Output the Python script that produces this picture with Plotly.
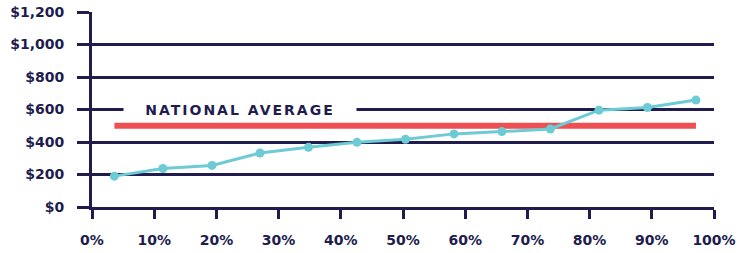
import plotly.graph_objects as go

# Data
pct = [3.6, 11.4, 19.3, 27.0, 34.8, 42.6, 50.4, 58.2, 65.9, 73.7, 81.5, 89.3, 97.1]
cost = [190, 237, 256, 332, 367, 398, 417, 450, 464, 480, 596, 612, 658]
national_average = 500
national_label = "NATIONAL AVERAGE"
x_ticks = [0, 10, 20, 30, 40, 50, 60, 70, 80, 90, 100]
x_tick_labels = ["0%", "10%", "20%", "30%", "40%", "50%", "60%", "70%", "80%", "90%", "100%"]
y_ticks = [0, 200, 400, 600, 800, 1000, 1200]
y_tick_labels = ["$0", "$200", "$400", "$600", "$800", "$1,000", "$1,200"]

NAVY = "#211c4e"
TEAL = "#6ccbd5"
RED = "#ee4f53"
FONT = "DejaVu Sans"

fig = go.Figure()

fig.add_trace(go.Scatter(
    x=[pct[0], pct[-1]], y=[national_average, national_average],
    mode="lines", line=dict(color=RED, width=6), hoverinfo="skip",
    showlegend=False,
))
fig.add_trace(go.Scatter(
    x=pct, y=cost, mode="lines+markers",
    line=dict(color=TEAL, width=3),
    marker=dict(color=TEAL, size=9),
    showlegend=False,
))

fig.add_annotation(
    x=23.8, y=600, xref="x", yref="y",
    text='<span style="letter-spacing:2px">' + national_label + "</span>",
    showarrow=False, bgcolor="white", width=230, height=16,
    font=dict(family=FONT, size=14, color=NAVY, weight="bold"),
)

fig.update_layout(
    width=751, height=253,
    margin=dict(l=92, r=37, t=12, b=46, autoexpand=False),
    paper_bgcolor="white", plot_bgcolor="white",
    font=dict(family=FONT, color=NAVY),
)
fig.update_xaxes(
    range=[0, 100], tickvals=x_ticks, ticktext=x_tick_labels,
    showgrid=False, zeroline=False, automargin=False,
    showline=True, linecolor=NAVY, linewidth=3,
    ticks="outside", ticklen=9, tickwidth=3, tickcolor=NAVY,
    tickfont=dict(family=FONT, size=14, color=NAVY, weight="bold"),
    ticklabelstandoff=9,
)
fig.update_yaxes(
    range=[0, 1200], tickvals=y_ticks, ticktext=y_tick_labels,
    showgrid=True, gridcolor=NAVY, gridwidth=3, zeroline=False, automargin=False,
    showline=True, linecolor=NAVY, linewidth=3,
    ticks="outside", ticklen=12, tickwidth=3, tickcolor=NAVY,
    tickfont=dict(family=FONT, size=14, color=NAVY, weight="bold"),
    ticklabelstandoff=10,
)

fig.write_html(
    "out.html",
    config={"displayModeBar": False},
    post_script="document.body.style.margin='0';document.body.style.overflow='hidden';",
)
